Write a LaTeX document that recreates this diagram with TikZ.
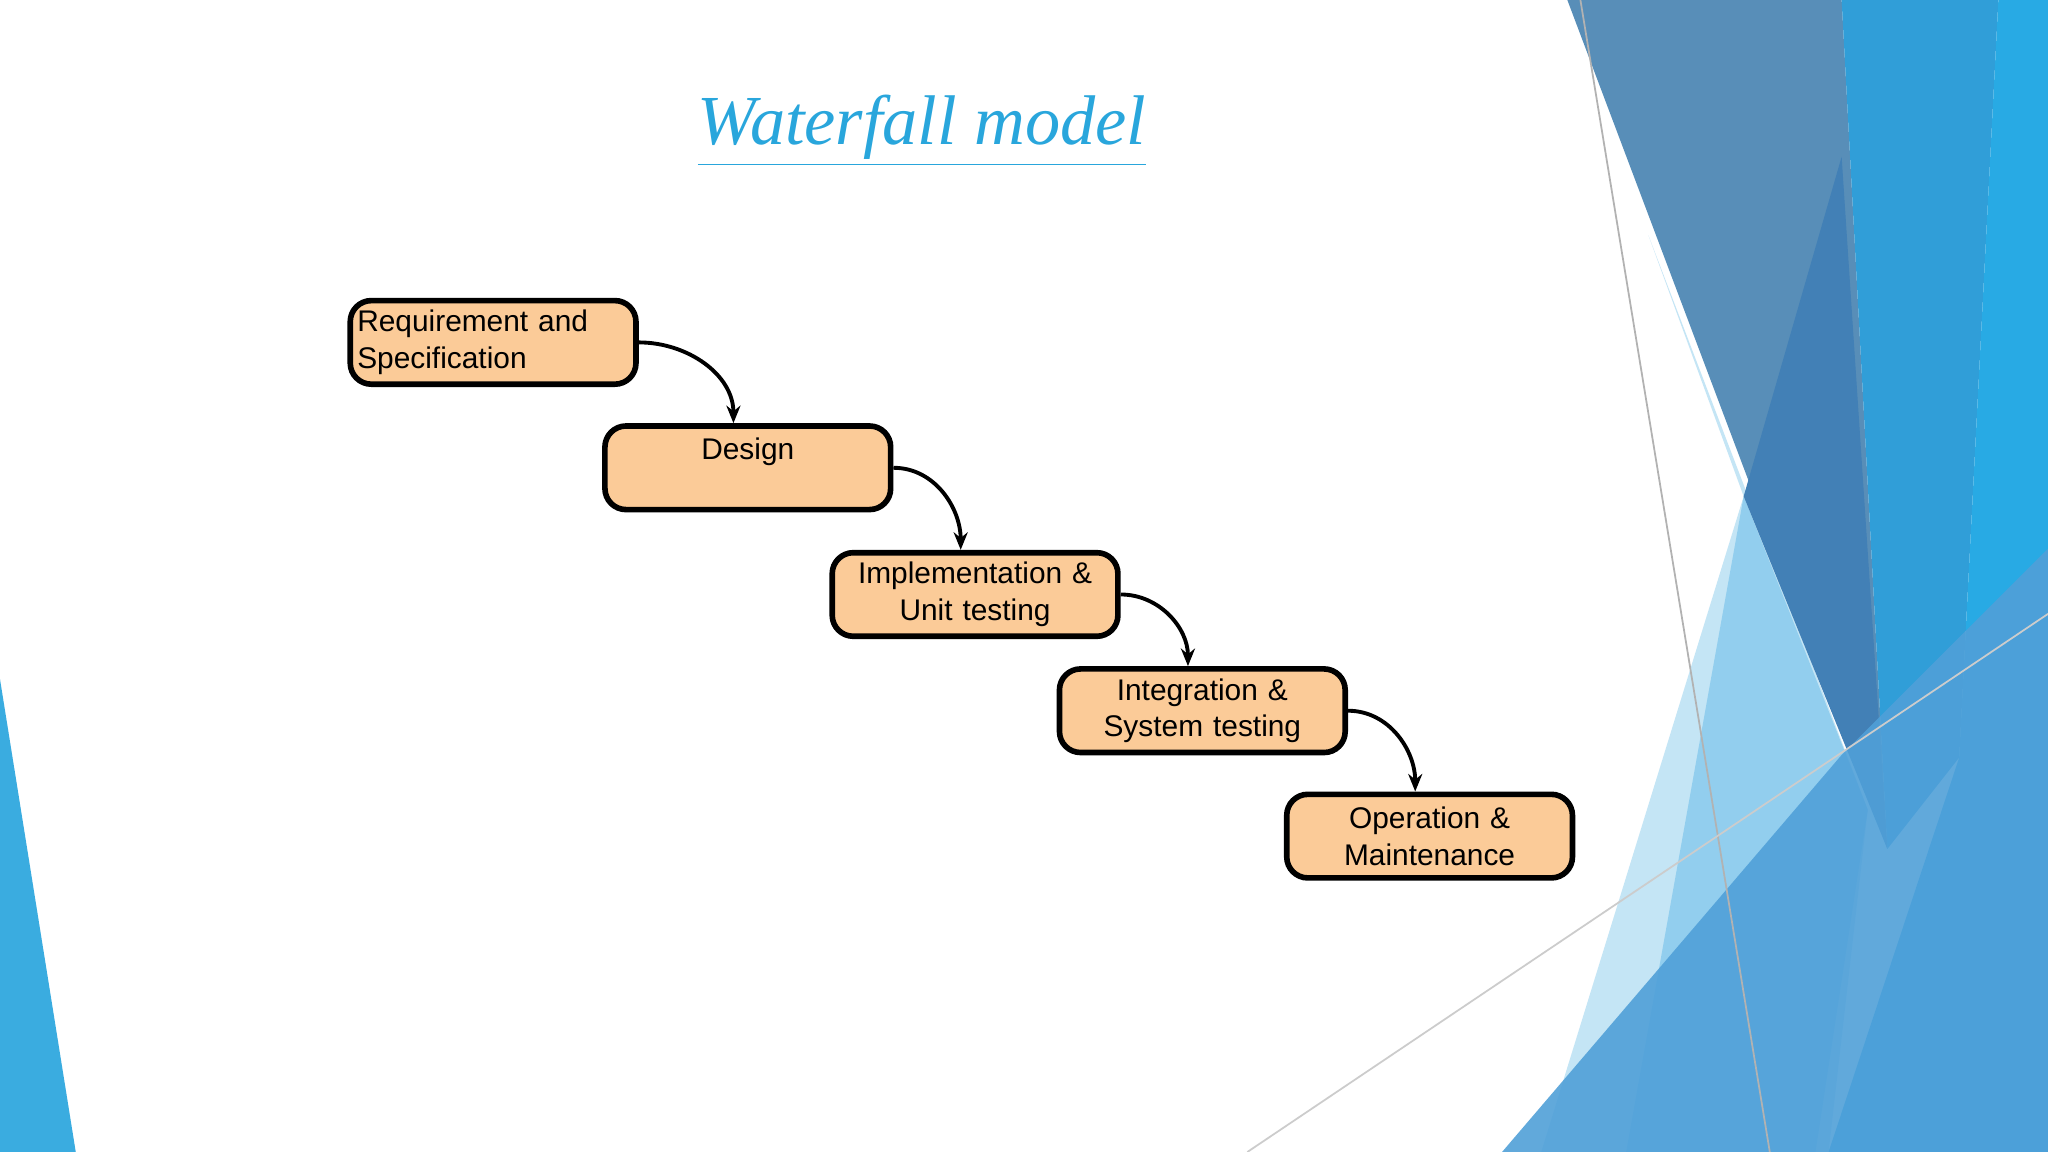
\documentclass[tikz,border=0pt]{standalone}
\usepackage{fontspec}
\setmainfont{Liberation Sans}
\newfontfamily\titlefont{Liberation Serif}
\usetikzlibrary{arrows.meta}
\definecolor{boxfill}{RGB}{251,203,152}
\definecolor{cA}{RGB}{58,172,224}
\definecolor{cB}{RGB}{196,229,245}
\definecolor{cC}{RGB}{146,206,238}
\definecolor{cD}{RGB}{88,142,184}
\definecolor{cE}{RGB}{48,158,216}
\definecolor{cF}{RGB}{66,128,182}
\definecolor{cG}{RGB}{40,170,228}
\definecolor{cH}{RGB}{80,160,216}
\definecolor{titleblue}{RGB}{41,166,220}
\begin{document}
\begin{tikzpicture}[x=0.0130612cm,y=-0.0130612cm,
  box/.style={draw=black,line width=1.6pt,fill=boxfill,rounded corners=6pt,minimum width=216*0.0130612cm,minimum height=64*0.0130612cm,inner sep=2pt,font=\fontsize{8.5}{10.4}\selectfont,text width=208*0.0130612cm,anchor=north west},
  arr/.style={line width=1.1pt,-{Stealth[length=5pt,width=4pt]}}]
\useasboundingbox (0,0) rectangle (1568,882);
\fill[white] (0,0) rectangle (1568,882);
% background shapes
\fill[cA] (0,520) -- (58,882) -- (0,882) -- cycle;
\fill[cB] (1262,180) -- (1430,620) -- (1400,882) -- (1180,882) -- (1335,380) -- cycle;
\fill[cC] (1335,380) -- (1430,620) -- (1390,882) -- (1245,882) -- cycle;
\fill[cD] (1200,0) -- (1410,0) -- (1445,650) -- cycle;
\fill[cE] (1410,0) -- (1530,0) -- (1500,580) -- (1445,650) -- cycle;
\fill[cF] (1335,380) -- (1410,120) -- (1445,650) -- cycle;
\fill[cG] (1530,0) -- (1568,0) -- (1568,882) -- (1400,882) -- (1500,580) -- cycle;
\fill[cH,opacity=0.9] (1150,882) -- (1410,578) -- (1568,420) -- (1568,882) -- cycle;
\draw[gray!60,line width=0.5pt] (1210,0) -- (1355,882);
\draw[gray!40,line width=0.5pt] (955,882) -- (1568,470);
% title
\node[font=\titlefont\itshape\fontsize{20}{24}\selectfont,text=titleblue] (t) at (706,100) {\underline{Waterfall model}};
% boxes
\node[box,align=left] (b1) at (266,228) {Requirement and\\Specification};
\node[box,align=center,text depth=30*0.0130612cm] (b2) at (461,324) {Design};
\node[box,align=center] (b3) at (635,421) {Implementation \&\\Unit testing};
\node[box,align=center] (b4) at (809,510) {Integration \&\\System testing};
\node[box,align=center] (b5) at (983,606) {Operation \&\\Maintenance};
\draw[arr] (b1.east) to[out=0,in=90] ([xshift=-11*0.0130612cm]b2.north);
\draw[arr] (b2.east) to[out=0,in=90] ([xshift=-11*0.0130612cm]b3.north);
\draw[arr] (b3.east) to[out=0,in=90] ([xshift=-11*0.0130612cm]b4.north);
\draw[arr] (b4.east) to[out=0,in=90] ([xshift=-11*0.0130612cm]b5.north);
\end{tikzpicture}
\end{document}
